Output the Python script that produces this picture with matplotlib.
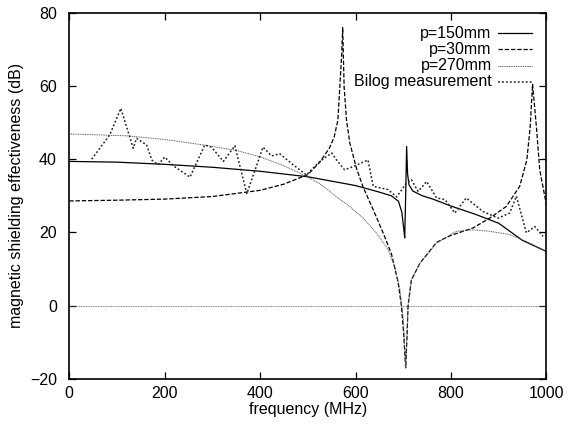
import matplotlib
matplotlib.use("Agg")
import matplotlib.pyplot as plt

plt.rcParams['font.family'] = ['Liberation Sans', 'DejaVu Sans']

# p=150mm (solid)
f150 = [0, 100, 200, 300, 400, 500, 550, 600, 650, 675, 690, 697, 701, 703, 705,
        707, 709, 712, 720, 740, 760, 800, 850, 900, 950, 1000]
se150 = [39.4, 39.2, 38.6, 37.8, 36.7, 35.2, 34.0, 32.8, 31.0, 30.0, 28.5, 25.5, 21.0,
         18.5, 30.0, 43.5, 36.0, 33.0, 31.3, 30.0, 29.2, 27.2, 25.0, 22.5, 17.8, 14.8]

# p=30mm (dashed)
f30 = [0, 100, 200, 300, 400, 450, 500, 525, 545, 555, 563, 567, 571, 573, 576, 581,
       588, 602, 616, 637, 658, 675, 689, 696, 701, 705, 708, 710, 717, 735, 770, 800,
       846, 881, 916, 944, 959, 966, 971, 979, 986, 1000]
se30 = [28.6, 28.8, 29.1, 29.8, 31.5, 33.2, 35.8, 39.2, 43.0, 46.0, 50.7, 59.8, 68.9,
        76.0, 59.8, 50.7, 44.4, 37.5, 32.3, 26.2, 19.8, 14.2, 6.5, 0.0, -8.0, -17.0,
        -8.0, 0.0, 7.0, 11.6, 17.3, 19.2, 21.2, 23.9, 27.1, 32.6, 39.8, 48.9, 60.5,
        48.9, 37.1, 27.5]

# p=270mm (fine dotted)
f270 = [0, 120, 200, 281, 350, 399, 450, 497, 525, 546, 567, 581, 616, 644, 668, 682,
        693, 700, 705, 710, 717, 735, 770, 811, 846, 881, 923, 958, 1000]
se270 = [46.9, 46.4, 45.4, 43.9, 42.4, 40.7, 38.2, 35.3, 33.3, 31.2, 29.0, 27.8, 23.9,
         19.8, 15.3, 10.7, 4.4, -3.6, -17.0, 0.0, 7.0, 11.6, 17.1, 20.3, 20.7, 20.3,
         19.4, 17.5, 14.8]

# Bilog measurement (dotted)
f_meas = [47, 85, 108, 134, 141, 162, 173, 186, 200, 218, 253, 284, 298, 323, 347, 372,
          406, 424, 441, 469, 497, 525, 550, 560, 577, 595, 626, 637, 668, 686, 707, 717,
          731, 749, 770, 787, 808, 832, 867, 899, 923, 937, 958, 976, 993]
se_meas = [40.0, 46.7, 53.9, 43.0, 45.7, 43.9, 39.8, 38.5, 40.6, 38.2, 35.1, 43.9, 43.3,
           39.4, 43.7, 30.6, 43.3, 40.9, 41.5, 38.5, 35.7, 39.4, 41.7, 39.8, 37.1, 38.0,
           39.8, 32.6, 31.7, 29.7, 33.5, 34.4, 31.2, 33.9, 29.4, 29.0, 25.3, 29.4, 25.7,
           23.9, 25.3, 29.9, 19.9, 21.6, 18.9]

labels = ['p=150mm', 'p=30mm', 'p=270mm', 'Bilog measurement']

fig = plt.figure(figsize=(5.68, 4.28), dpi=100)
ax = fig.add_axes([0.122, 0.115, 0.840, 0.855])

styles = [
    dict(color='black', lw=0.9, linestyle='-'),
    dict(color='black', lw=0.9, linestyle=(0, (3.5, 1.5))),
    dict(color='#555555', lw=0.7, linestyle=(0, (1, 0.8))),
    dict(color='#222222', lw=1.1, linestyle=(0, (1.2, 1.4))),
]
series = [(f150, se150), (f30, se30), (f270, se270), (f_meas, se_meas)]

ax.axhline(0, color='#555555', lw=0.6, linestyle=(0, (1, 1)))
for (x, y), st in zip(series, styles):
    ax.plot(x, y, **st)

# gnuplot-style key: right aligned text with sample to its right
for i, (lab, st) in enumerate(zip(labels, styles)):
    yk = 0.944 - i * 0.044
    ax.text(0.885, yk, lab, transform=ax.transAxes, ha='right', va='center',
            fontsize=11.5)
    ax.plot([0.898, 0.969], [yk, yk], transform=ax.transAxes, **st)

ax.set_xlim(0, 1000)
ax.set_ylim(-20, 80)
ax.set_xticks(range(0, 1001, 200))
ax.set_yticks(range(-20, 81, 20))
ax.tick_params(direction='in', length=5, width=0.9, top=True, right=True,
               labelsize=11.5)
ax.tick_params(axis='y', pad=9)
ax.tick_params(axis='x', pad=5)
for sp in ax.spines.values():
    sp.set_linewidth(1.2)

ax.set_xlabel('frequency (MHz)', fontsize=11.5, labelpad=1)
ax.set_ylabel('magnetic shielding effectiveness (dB)', fontsize=11.5, labelpad=4)

fig.savefig('out.png', dpi=100)
